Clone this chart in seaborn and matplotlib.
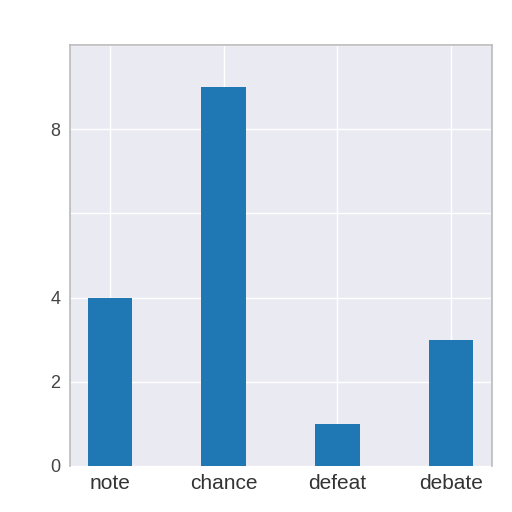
import matplotlib
matplotlib.use("Agg")
import matplotlib.pyplot as plt
import seaborn as sns
import pandas as pd

sns.set_style("darkgrid")
plt.rcParams['font.family'] = ['Liberation Sans', 'DejaVu Sans']

words = ['note', 'chance', 'defeat', 'debate']
counts = [4, 9, 1, 3]
ytick_vals = [0, 2, 4, 6, 8, 10]
ytick_labels = ['0', '2', '4', '', '8', '']

df = pd.DataFrame({'word': words, 'count': counts})

fig = plt.figure(figsize=(5.12, 5.12), dpi=100)
ax = fig.add_axes([0.137, 0.09, 0.824, 0.822])
sns.barplot(data=df, x='word', y='count', color='#1f77b4', saturation=1,
            width=0.39, linewidth=0, ax=ax)

ax.set_xlim(-0.35, 3.36)
ax.set_ylim(0, 10)
ax.set_yticks(ytick_vals)
ax.set_yticklabels(ytick_labels, fontsize=13, color='#444444')
ax.tick_params(axis='x', labelsize=15, colors='#333333', pad=2)
ax.set_axisbelow(True)
ax.grid(True, axis='both', color='white', linewidth=1)
ax.set_xlabel('')
ax.set_ylabel('')
for s in ax.spines.values():
    s.set_visible(True)
    s.set_color('#bbbbbb')
    s.set_linewidth(1.2)
ax.spines['bottom'].set_visible(False)

fig.savefig('out.png', dpi=100)
